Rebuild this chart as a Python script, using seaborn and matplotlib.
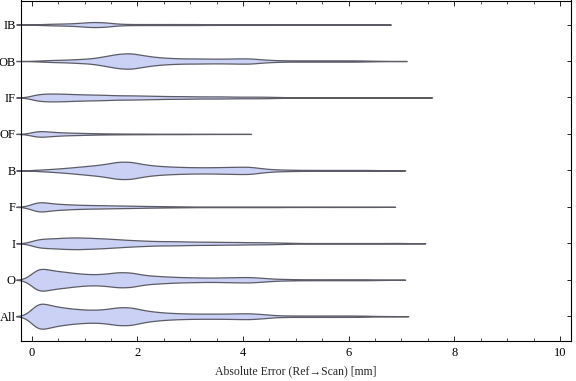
import numpy as np
import pandas as pd
import matplotlib
matplotlib.use("Agg")
import matplotlib.pyplot as plt
from matplotlib.ticker import MultipleLocator
import seaborn as sns

# categories, top to bottom
groups = ["IB", "OB", "IF", "OF", "B", "F", "I", "O", "All"]

# centres of the 0.25 mm error classes (mm)
bins = [0.125, 0.375, 0.625, 0.875, 1.125, 1.375, 1.625, 1.875, 2.125, 2.375,
        2.625, 2.875, 3.125, 3.375, 3.625, 3.875, 4.125, 4.375, 4.625, 4.875,
        5.125, 5.375, 5.625, 5.875, 6.125, 6.375, 6.625, 6.875, 7.125, 7.375,
        7.625]

# counts per class
ib_counts = [2, 5, 6, 9, 16, 14, 5, 3, 3, 3, 3, 3, 3, 2, 2, 2, 2, 2, 2, 1,
             1, 1, 1, 1, 1, 0, 0, 0, 0, 0, 0]
ob_counts = [2, 5, 6, 9, 12, 22, 34, 38, 26, 18, 14, 12, 12, 11, 11, 12, 13, 7, 4, 3,
             3, 3, 3, 3, 3, 2, 0, 0, 0, 0, 0]
if_counts = [14, 15, 14, 12, 11, 10, 8, 8, 7, 6, 5, 5, 4, 4, 4, 3, 3, 3, 2, 1,
             1, 1, 1, 1, 1, 1, 1, 1, 0, 0, 0]
of_counts = [32, 19, 13, 10, 7, 5, 4, 3, 3, 2, 2, 2, 1, 1, 0, 0, 0, 0, 0, 0,
             0, 0, 0, 0, 0, 0, 0, 0, 0, 0, 0]
b_counts = [3, 6, 10, 15, 20, 26, 37, 37, 25, 19, 16, 14, 13, 13, 14, 15, 16, 8, 4, 3,
            2, 2, 2, 2, 2, 2, 0, 0, 0, 0, 0]
f_counts = [39, 23, 18, 14, 12, 11, 9, 8, 6, 5, 4, 3, 2, 2, 2, 2, 2, 2, 2, 1,
            1, 1, 1, 1, 1, 0, 0, 0, 0, 0, 0]
i_counts = [17, 18, 21, 22, 20, 18, 15, 12, 10, 8, 8, 7, 6, 6, 5, 5, 4, 4, 3, 2,
            1, 1, 1, 1, 1, 1, 1, 1, 0, 0, 0]
o_counts = [55, 40, 34, 27, 23, 25, 33, 32, 20, 16, 13, 11, 10, 9, 10, 11, 12, 8, 4, 3,
            2, 2, 2, 2, 2, 2, 0, 0, 0, 0, 0]
all_counts = [64, 45, 36, 30, 27, 29, 39, 39, 25, 18, 14, 12, 11, 11, 11, 12, 13, 9, 4, 3,
              3, 3, 3, 3, 3, 2, 0, 0, 0, 0, 0]

# largest single error per group (mm)
max_err = [6.38, 6.68, 7.16, 3.73, 6.65, 6.46, 7.03, 6.65, 6.71]

counts = [ib_counts, ob_counts, if_counts, of_counts, b_counts,
          f_counts, i_counts, o_counts, all_counts]

frames = []
for g, c, m in zip(groups, counts, max_err):
    vals = np.append(np.repeat(bins, c), m)
    frames.append(pd.DataFrame({"group": g, "error": vals}))
df = pd.concat(frames, ignore_index=True)

sns.set_style("ticks")
plt.rcParams["font.family"] = ["Liberation Serif", "DejaVu Serif"]

fig = plt.figure(figsize=(5.76, 3.81), dpi=100)
ax = fig.add_axes([20.7 / 576, 1 - 341 / 381, (571 - 20.7) / 576, 340.5 / 381])

bw = 0.15  # kernel width in mm
sns.violinplot(data=df, x="error", y="group", order=groups, orient="h",
               inner=None, cut=2.8, gridsize=400,
               bw_method=lambda k: bw / k.dataset.std(ddof=1),
               density_norm="count", width=0.685,
               color="#cbd0f5", saturation=1,
               linecolor="#5c5c66", linewidth=0.9, ax=ax)
for coll in ax.collections:
    coll.set_clip_on(False)

ax.set_xlim(-0.21, 10.21)
ax.set_ylim(8.68, -0.66)
ax.xaxis.set_major_locator(MultipleLocator(2))
ax.xaxis.set_minor_locator(MultipleLocator(0.5))
ax.tick_params(axis="x", which="both", direction="in", top=True, bottom=True,
               colors="black", labelsize=9, pad=4)
ax.tick_params(axis="x", which="major", length=3.6, width=0.6)
ax.tick_params(axis="x", which="minor", length=2, width=0.5)
ax.tick_params(axis="y", which="major", direction="in", left=False, right=True,
               length=3, width=0.6, pad=3.5, colors="black", labelsize=9)
for s in ax.spines.values():
    s.set_color("black")
    s.set_linewidth(0.8)

ax.set_ylabel("")
ax.set_xlabel("Absolute Error (Ref\u2192Scan) [mm]", fontsize=8.5, labelpad=5)

fig.savefig("out.png", dpi=100)
